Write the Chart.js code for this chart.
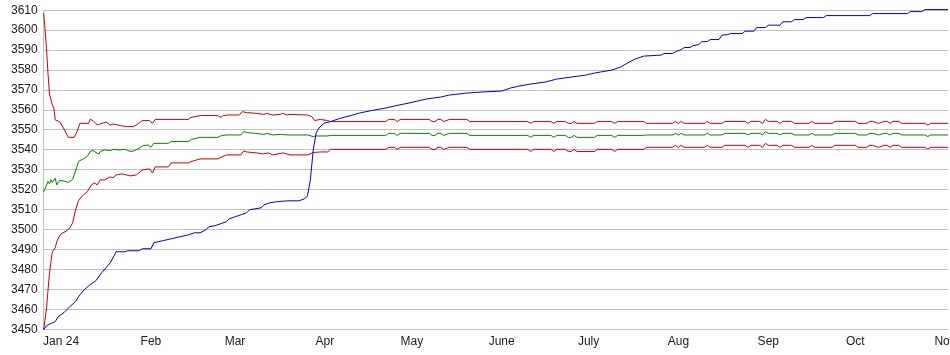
<!DOCTYPE html>
<html>
<head>
<meta charset="utf-8">
<script src="https://cdn.jsdelivr.net/npm/chart.js@4"></script>
<style>
  html, body { margin: 0; padding: 0; background: #fff; overflow: hidden; }
  #wrap { width: 962px; height: 355px; }
</style>
</head>
<body>
<div id="wrap"><canvas id="chart" width="962" height="355"></canvas></div>
<script>
// x values are days counted from Dec 26, 2023
const monthTickDays = [6, 37, 66, 97, 127, 158, 188, 219, 250, 280, 311];
const monthLabels = ['Jan 24', 'Feb', 'Mar', 'Apr', 'May', 'June', 'July', 'Aug', 'Sep', 'Oct', 'Nov'];

// blue line
const blueDays = [0,1,4,5,7,9,11,12,14,16,18,20,23,25,28,29,33,34,37,38,41,44,47,50,52,54,56,57,59,61,63,64,66,68,70,71,75,76,78,80,84,88,90,91,92,93,94,95,96,97,99,102,104,106,109,113,118,121,126,132,137,140,146,151,158,161,164,168,173,177,182,187,190,192,196,199,202,204,207,213,214,217,218,220,221,223,224,226,227,229,230,233,234,236,237,241,242,245,246,249,250,254,255,258,259,262,263,269,270,285,286,298,299,303,304,312];
const blueValues = [3450,3452,3454,3456.5,3458.5,3461.5,3464,3466.5,3470,3472.5,3474.5,3478.5,3483.5,3489,3489,3489.5,3489.5,3490.5,3490.5,3493.5,3494.5,3495.5,3496.5,3497.5,3498.5,3498.5,3500,3501.5,3502,3503,3504,3505.5,3506.5,3507.5,3508.5,3510,3511,3512.5,3513.5,3514,3514.5,3514.5,3515.5,3517,3525,3540,3548.5,3551,3552.5,3553.5,3554.2,3555.7,3556.5,3557.2,3558.5,3559.7,3561,3562,3563.5,3565.5,3566.5,3567.5,3568.5,3569,3569.5,3571,3572,3573,3574,3575.5,3576.5,3577.5,3578.5,3579,3580,3581.5,3584,3585.5,3587,3587.5,3588.3,3588.3,3589.2,3590.3,3591.3,3591.3,3592.2,3592.8,3594.2,3594.3,3595.3,3595.3,3597.5,3597.8,3598.3,3598.3,3599.5,3599.5,3601.3,3601.3,3602.5,3602.5,3604.2,3604.2,3605.3,3605.3,3606.3,3606.3,3607.3,3607.3,3608.3,3608.3,3609.3,3609.3,3610.3,3610.3];

// upper red, green and lower red: first part, each with its own days
const upperEarlyDays = [0,0.5,1,1.5,2,3,3.5,4,5.5,7,8.5,10.5,11.5,12.5,15.5,16,17,18.5,19.5,21.5,23,24,26.5,28.5,31,32.5,34,36.5,37.5,38.5,50,50.5,54,60,61,62,63.5,67.5,68.5,70,73.5,76,77,79,81.5,82.5,84,85,91,92.5,93.5,95.5,98];
const upperEarlyValues = [3608.5,3600,3590,3578,3568,3562.5,3561,3555,3554.2,3550.5,3546.3,3546.3,3549.2,3553.3,3553.3,3555.3,3554.7,3552.5,3553,3554,3552.5,3553,3552.2,3551.7,3551.7,3553,3554.7,3554.7,3553.3,3555.3,3555.3,3556.2,3557.2,3557.2,3556.3,3557.2,3557.5,3557.5,3559.2,3558.7,3558.3,3557.8,3558.3,3557.5,3557.8,3558.3,3557.5,3557.8,3557.5,3556.7,3554.7,3555.3,3554.7];

const midEarlyDays = [0,1.5,2,2.5,3,4,4.5,5.5,6,7.5,8.5,9.5,10,10.5,11.5,12,12.5,13.5,15,16,17,18,19,19.5,21,23,24,26,28,29,30,31,33,34,36,37,38,43,44,50,51,54,60,61,63,68,69,70,73,76,77,79,82,84,91,93,94,98];
const midEarlyValues = [3519,3524.2,3523,3525,3523.7,3525.8,3522.5,3524.7,3524.7,3524.2,3523.7,3524.7,3525.3,3527.5,3531.7,3534.2,3534.7,3535.3,3536.7,3539.2,3539.7,3538.7,3538,3539.2,3540,3539.7,3540.3,3540,3540.3,3539.7,3539.2,3539.5,3540.8,3542,3542.5,3541.3,3543.3,3543.3,3544.2,3544.2,3545.3,3546.3,3546.3,3547,3547.5,3547.5,3549.2,3548.7,3548.3,3547.8,3548.3,3547.5,3547.8,3547.5,3547.5,3546.7,3547,3547];

const lowerEarlyDays = [0,1,1.5,2,2.5,3,4,4.5,5.5,6,8,9,10,11,12,13,15,16.5,17.5,18.5,19.5,21,23,24,25,27,30,32,34,36.5,37.5,38.5,43,44,50,50.5,54,60,61.5,63,68,69,70,73.5,75.5,77.5,79,82.5,85,91,93,95.5,98];
const lowerEarlyValues = [3450,3461,3470,3478,3484,3489,3491,3494,3497,3498,3499.5,3501,3503.5,3510,3514.5,3516.5,3519,3522.5,3523.5,3522.5,3525,3525,3526.5,3526,3527.5,3528,3527,3527.5,3530,3530.5,3528.5,3531.5,3531.5,3533.5,3533.5,3534,3535.5,3535.5,3536.5,3537.5,3537.5,3539.5,3539,3538.5,3538,3538.5,3537.5,3538.5,3537.5,3537.5,3538.7,3539,3539];

// from April on the three band lines move together on the same days
const bandDays = [99,118,119,121,122,123,133,134,135,136,137,138,140,146,147,167,168,169,175,176,177,180,181,182,183,184,190,191,196,197,198,207,208,217,218,219,220,221,228,229,230,234,235,242,243,244,247,248,249,250,253,254,255,258,259,264,265,266,272,273,280,281,284,285,286,288,290,291,292,293,295,296,304,305,306,312];
const upperLateValues = [
  3554.2,3554.2,3555.3,3555.3,3554.2,3555.3,3555.3,3554.2,3554.2,3555.3,
  3555.3,3554.2,3555.3,3555.3,3554.2,3554.2,3553.3,3554.2,3554.2,3553.3,
  3554.2,3554.2,3553.3,3553.3,3554.2,3553.3,3553.3,3554.2,3554.2,3553.3,
  3554.2,3554.2,3553.3,3553.3,3554.3,3553.3,3554.3,3553.3,3553.3,3554.3,
  3553.3,3553.3,3554.3,3554.3,3553.3,3554.3,3554.3,3553.3,3555.3,3554.3,
  3554.3,3553.3,3554.3,3554.3,3553.3,3553.3,3554.3,3553.3,3553.3,3554.3,
  3554.3,3553.3,3553.3,3554.3,3554.3,3553.3,3554.3,3554.3,3553.3,3554.3,
  3554.3,3553.3,3553.3,3552.5,3553.3,3553.3];
const midLateValues = [
  3547.3,3547.3,3548.3,3548.3,3547.3,3548.3,3548.3,3547.3,3547.3,3548.3,
  3548.3,3547.3,3548.3,3548.3,3547.3,3547.3,3546.3,3547.3,3547.3,3546.3,
  3547.3,3547.3,3546.3,3546.3,3547.3,3546.3,3546.3,3547.3,3547.3,3546.3,
  3547.3,3547.3,3547.5,3547.5,3548.3,3547.5,3548.3,3547.5,3547.5,3548.3,
  3547.5,3547.5,3548.3,3548.3,3547.5,3548.3,3548.3,3547.5,3549.2,3548.3,
  3548.3,3547.5,3548.3,3548.3,3547.5,3547.5,3548.3,3547.5,3547.5,3548.3,
  3548.3,3547.5,3547.5,3548.3,3548.3,3547.5,3548.3,3548.3,3547.5,3548.3,
  3548.3,3547.5,3547.5,3546.7,3547.5,3547.5];
const lowerLateValues = [
  3540.3,3540.3,3541.3,3541.3,3540.3,3541.3,3541.3,3540.3,3540.3,3541.3,
  3541.3,3540.3,3541.3,3541.3,3540.3,3540.3,3539.2,3540.3,3540.3,3539.2,
  3540.3,3540.3,3539.2,3539.2,3540.3,3539.2,3539.2,3540.3,3540.3,3539.2,
  3540.3,3540.3,3541.3,3541.3,3542.3,3541.3,3542.3,3541.3,3541.3,3542.3,
  3541.3,3541.3,3542.3,3542.3,3541.3,3542.3,3542.3,3541.3,3543.3,3542.3,
  3542.3,3541.3,3542.3,3542.3,3541.3,3541.3,3542.3,3541.3,3541.3,3542.3,
  3542.3,3541.3,3541.3,3542.3,3542.3,3541.3,3542.3,3542.3,3541.3,3542.3,
  3542.3,3541.3,3541.3,3540.5,3541.3,3541.3];

const yMin = 3450, yMax = 3610, yStep = 10;

function points(days, values) {
  return days.map((d, i) => ({ x: d, y: values[i] }));
}

function lineSet(color, data) {
  return {
    data: data,
    borderColor: color,
    borderWidth: 1,
    pointRadius: 0,
    tension: 0,
    fill: false,
    clip: false
  };
}

const tickFont = { family: '"Liberation Sans", Arial, sans-serif', size: 12 };

new Chart(document.getElementById('chart'), {
  type: 'line',
  data: {
    datasets: [
      lineSet('#0000c8', points(blueDays, blueValues)),
      lineSet('#c80000', points(upperEarlyDays.concat(bandDays), upperEarlyValues.concat(upperLateValues))),
      lineSet('#008000', points(midEarlyDays.concat(bandDays), midEarlyValues.concat(midLateValues))),
      lineSet('#c80000', points(lowerEarlyDays.concat(bandDays), lowerEarlyValues.concat(lowerLateValues)))
    ]
  },
  options: {
    responsive: false,
    animation: false,
    layout: { padding: { left: 8, right: 14, top: 10, bottom: 1 } },
    plugins: { legend: { display: false }, tooltip: { enabled: false } },
    scales: {
      x: {
        type: 'linear',
        min: 0,
        max: 312,
        grid: { display: false, drawTicks: false },
        border: { display: false },
        afterBuildTicks: axis => {
          axis.ticks = monthTickDays.map(v => ({ value: v }));
        },
        ticks: {
          autoSkip: false,
          maxRotation: 0,
          padding: 5,
          color: '#1a1a1a',
          font: tickFont,
          callback: (value, index) => monthLabels[index]
        }
      },
      y: {
        min: yMin,
        max: yMax,
        // invisible 3px tick marks widen the gap between labels and axis
        grid: { color: '#c0c0c0', drawTicks: true, tickLength: 3, tickColor: 'rgba(0,0,0,0)' },
        border: { display: true, color: '#c0c0c0' },
        ticks: {
          stepSize: yStep,
          padding: 3,
          color: '#1a1a1a',
          font: tickFont,
          callback: value => String(value)
        }
      }
    }
  }
});
</script>
</body>
</html>
